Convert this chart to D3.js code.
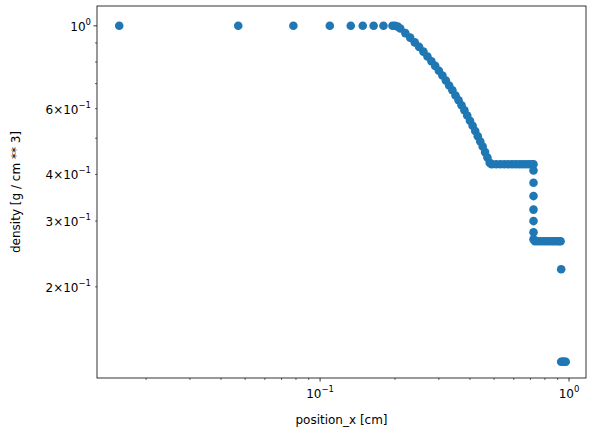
<!DOCTYPE html><html><head><script src="https://cdn.jsdelivr.net/npm/d3@7"></script>
<style>body{margin:0;background:#fff}text{font-family:"DejaVu Sans";fill:#000}</style></head><body>
<svg id="c" width="602" height="437"></svg>
<script>
const posX=[0.0156,0.0469,0.0781,0.1094,0.1328,0.1484,0.1641,0.1797,0.1953,0.2,0.205,
0.21,0.22,0.23,0.24,0.25,0.26,0.27,0.28,0.29,0.30,0.31,0.32,0.33,0.34,0.35,0.36,0.37,0.38,0.39,0.40,0.41,0.42,0.43,0.44,0.45,0.46,0.47,0.48,0.485,
0.49,0.51,0.53,0.55,0.57,0.59,0.61,0.63,0.65,0.67,0.69,0.71,0.72,
0.72,0.72,0.72,0.72,0.72,0.72,0.72,
0.73,0.75,0.77,0.79,0.81,0.83,0.85,0.87,0.89,0.91,0.925,
0.93,0.93,0.94,0.95,0.96,0.97];
const dens=[1,1,1,1,1,1,1,1,1,1,0.995,
0.984,0.956,0.930,0.903,0.878,0.853,0.828,0.804,0.781,0.758,0.736,0.714,0.692,0.672,0.651,0.632,0.613,0.594,0.575,0.557,0.540,0.523,0.506,0.490,0.475,0.459,0.444,0.430,0.427,
0.426,0.426,0.426,0.426,0.426,0.426,0.426,0.426,0.426,0.426,0.426,0.426,0.426,
0.41,0.38,0.35,0.322,0.30,0.28,0.268,
0.265,0.265,0.265,0.265,0.265,0.265,0.265,0.265,0.265,0.265,0.265,
0.223,0.126,0.126,0.126,0.126,0.126];
const yLabeled=[[1,"10","0"],[0.6,"6×10","−1"],[0.4,"4×10","−1"],[0.3,"3×10","−1"],[0.2,"2×10","−1"]];
const xLabeled=[[0.1,"10","−1"],[1,"10","0"]];
const m={l:97,r:586,t:6,b:378};
const svg=d3.select("#c");
const x=d3.scaleLog().domain([0.0127,1.17]).range([m.l,m.r]);
const y=d3.scaleLog().domain([0.114,1.13]).range([m.b,m.t]);
svg.append("g").selectAll("circle").data(posX).join("circle")
 .attr("cx",d=>x(d)).attr("cy",(d,i)=>y(dens[i])).attr("r",4.3).attr("fill","#1f77b4");
svg.append("rect").attr("x",m.l).attr("y",m.t).attr("width",m.r-m.l).attr("height",m.b-m.t).attr("fill","none").attr("stroke","#000").attr("stroke-width",0.8);
const xmin=[];for(const dec of [0.01,0.1,1])for(let k=2;k<10;k++){const v=k*dec;if(v>0.0127&&v<1.17)xmin.push(v);}
const ymin=[];for(let k=2;k<10;k++)ymin.push(k*0.1);
const g=svg.append("g").attr("stroke","#000").attr("stroke-width",0.6);
xmin.forEach(v=>g.append("line").attr("x1",x(v)).attr("x2",x(v)).attr("y1",m.b).attr("y2",m.b+2));
ymin.forEach(v=>g.append("line").attr("y1",y(v)).attr("y2",y(v)).attr("x1",m.l).attr("x2",m.l-2));
xLabeled.forEach(([v,b,e])=>{g.append("line").attr("x1",x(v)).attr("x2",x(v)).attr("y1",m.b).attr("y2",m.b+3.5).attr("stroke-width",0.8);
 const t=svg.append("text").attr("x",x(v)).attr("y",m.b+20).attr("text-anchor","middle").attr("font-size",12);
 t.append("tspan").text(b);t.append("tspan").attr("dy",-6).attr("font-size",8.5).text(e);});
yLabeled.forEach(([v,b,e])=>{if(v==1)g.append("line").attr("y1",y(v)).attr("y2",y(v)).attr("x1",m.l).attr("x2",m.l-3.5).attr("stroke-width",0.8);
 const t=svg.append("text").attr("x",m.l-6).attr("y",y(v)+5).attr("text-anchor","end").attr("font-size",12);
 t.append("tspan").text(b);t.append("tspan").attr("dy",-6).attr("font-size",8.5).text(e);});
svg.append("text").attr("x",(m.l+m.r)/2).attr("y",424).attr("text-anchor","middle").attr("font-size",12).text("position_x [cm]");
svg.append("text").attr("transform",`translate(20,${(m.t+m.b)/2}) rotate(-90)`).attr("text-anchor","middle").attr("font-size",12).text("density [g / cm ** 3]");
</script></body></html>
